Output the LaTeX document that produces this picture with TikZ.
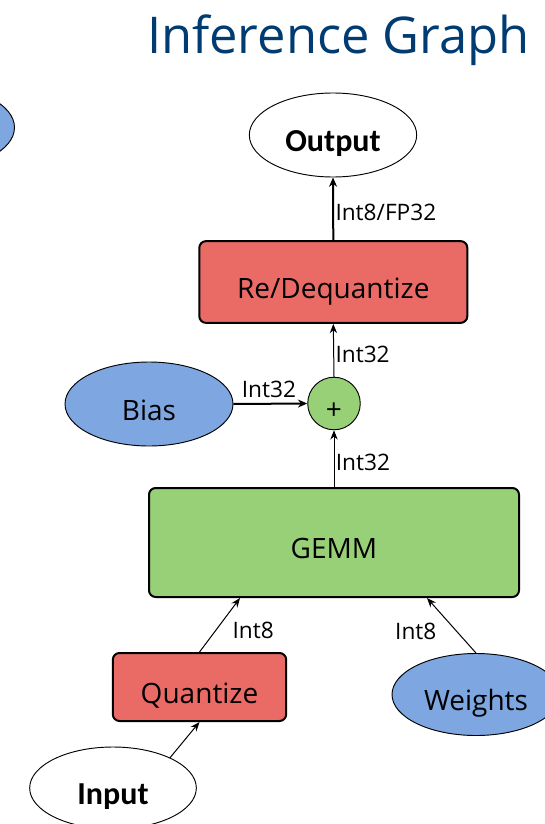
\documentclass[tikz,border=0pt]{standalone}
\usepackage{fontspec}
\setmainfont{Open Sans}
\newfontfamily\boldlabel{Carlito}
\usetikzlibrary{arrows.meta,shapes.geometric,calc}
\definecolor{opred}{HTML}{EA6B66}
\definecolor{opgreen}{HTML}{97D077}
\definecolor{datablue}{HTML}{7EA6E0}
\definecolor{titleblue}{HTML}{003C71}
\tikzset{
  nodetext/.style={font=\fontsize{21}{24}\selectfont, text height=24pt, text depth=0pt},
  opbox/.style={draw=black, line width=1.5pt, rounded corners=5pt, inner sep=0pt, nodetext},
  redop/.style={opbox, fill=opred},
  greenop/.style={opbox, fill=opgreen},
  dataell/.style={ellipse, draw=black, line width=0.7pt, inner sep=0pt, nodetext},
  blueell/.style={dataell, fill=datablue},
  ioell/.style={dataell, fill=white, font=\boldlabel\bfseries\fontsize{24}{27}\selectfont, text height=25.2pt, text depth=0pt},
  sumnode/.style={circle, draw=black, line width=0.7pt, fill=opgreen, minimum size=39.4pt, inner sep=0pt, nodetext},
  thin arrow/.style={-{Stealth[length=7pt,width=5.5pt]}, line width=0.75pt},
  thick arrow/.style={-{Stealth[length=7pt,width=6pt]}, line width=1.5pt},
  lbl/.style={font=\fontsize{17}{20}\selectfont, inner sep=1pt}
}
\begin{document}
\begin{tikzpicture}[x=0.75pt, y=-0.75pt]
\useasboundingbox (0,0) rectangle (544,824);

% title
\node[anchor=east, text=titleblue, font=\fontsize{38}{44}\selectfont, inner sep=0pt] (title) at (530,40) {Inference Graph};

% partly visible ellipse on the left edge
\node[blueell, minimum width=125.25pt, minimum height=63pt] (side) at (-69,127.5) {};

% nodes
\node[ioell, minimum width=125.5pt, minimum height=63pt] (out) at (333,135) {Output};
\node[redop, minimum width=201pt, minimum height=61.3pt] (deq) at (333.3,282) {Re/Dequantize};
\node[sumnode] (add) at (334,403.5) {+};
\node[blueell, minimum width=126pt, minimum height=63pt] (bias) at (149,404) {Bias};
\node[greenop, minimum width=277.5pt, minimum height=81.75pt] (gemm) at (334,542.5) {GEMM};
\node[redop, minimum width=130pt, minimum height=51pt] (quant) at (199.5,687) {Quantize};
\node[blueell, minimum width=126pt, minimum height=61.5pt] (weights) at (476,694.5) {Weights};
\node[ioell, minimum width=125pt, minimum height=61.5pt] (inp) at (113,788) {Input};

% connectors
\draw[thick arrow] (deq.north) -- node[lbl, anchor=west, pos=0.44] {Int8/FP32} (out.south);
\draw[thin arrow] (add.north) -- node[lbl, anchor=west, pos=0.43] {Int32} (deq.south);
\draw[thick arrow] (bias.east) -- node[lbl, anchor=south, pos=0.48, yshift=2.8pt] {Int32} (add.west);
\draw[thin arrow] (gemm.north) -- node[lbl, anchor=west, pos=0.44] {Int32} (add.south);
\draw[thin arrow] (quant.north) -- node[lbl, anchor=west, pos=0.4, xshift=11.3pt] {Int8} ($(gemm.south)+(-94,0)$);
\draw[thin arrow] (weights.north) -- node[lbl, anchor=east, pos=0.4, xshift=-13.6pt] {Int8} ($(gemm.south)+(93,0)$);
\draw[thin arrow] (inp.28) -- (quant.south);
\end{tikzpicture}
\end{document}
